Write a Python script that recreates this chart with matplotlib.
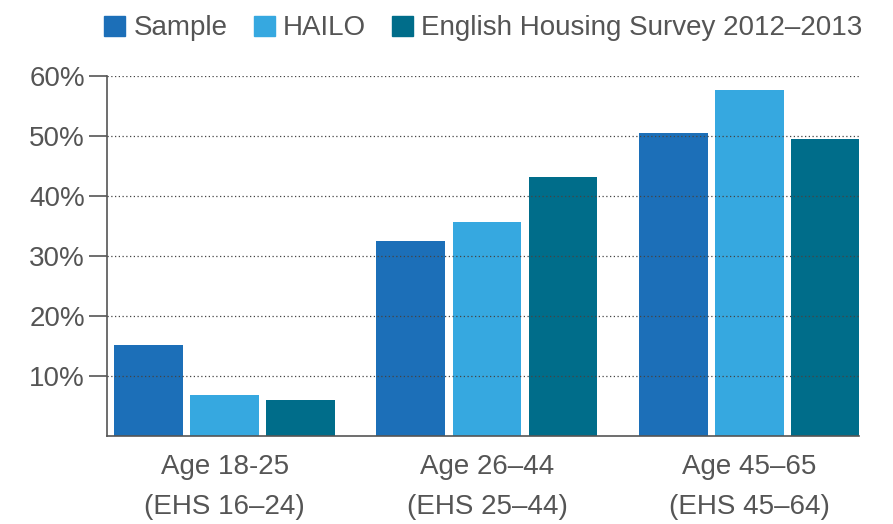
import matplotlib
matplotlib.use('Agg')
import matplotlib.pyplot as plt
from matplotlib.patches import Patch
import numpy as np

plt.rcParams['font.family'] = ['Liberation Sans', 'DejaVu Sans']

groups = ['Age 18-25\n(EHS 16\u201324)', 'Age 26\u201344\n(EHS 25\u201344)', 'Age 45\u201365\n(EHS 45\u201364)']
series = ['Sample', 'HAILO', 'English Housing Survey 2012\u20132013']
sample = [15.2, 32.5, 50.5]
hailo = [6.8, 35.7, 57.7]
ehs = [6.0, 43.2, 49.5]
colors = ['#1c6fb8', '#36a8e0', '#006d8a']
yticks = [10, 20, 30, 40, 50, 60]

text_col = '#555555'

fig = plt.figure(figsize=(8.93, 5.24), dpi=100)
ax = fig.add_axes([107 / 893, 1 - 436 / 524, (859 - 107) / 893, (436 - 76) / 524])

x = np.arange(len(groups))
width = 0.263
step = 0.29
for i, (vals, c) in enumerate(zip([sample, hailo, ehs], colors)):
    ax.bar(x + (i - 1) * step, vals, width, color=c, zorder=2)

ax.set_xlim(-0.4495, 2.419)
ax.set_ylim(0, 60)

ax.set_yticks(yticks)
ax.set_yticklabels([f'{v}%' for v in yticks], fontsize=20, color=text_col)
ax.yaxis.grid(True, linestyle=(0, (1, 2)), color='#444444', linewidth=0.9, zorder=3)
ax.set_axisbelow(False)
ax.tick_params(axis='y', length=13, width=1.2, color=text_col, pad=3)

ax.set_xticks(x)
ax.set_xticklabels(groups, fontsize=20, color=text_col, linespacing=1.72)
ax.tick_params(axis='x', length=0, pad=13)

for s in ['top', 'right']:
    ax.spines[s].set_visible(False)
for s in ['left', 'bottom']:
    ax.spines[s].set_color(text_col)
    ax.spines[s].set_linewidth(1.2)

handles = [Patch(color=c) for c in colors]
fig.legend(handles, series, loc='upper left', bbox_to_anchor=(85 / 893, 1 + 4 / 524),
           ncol=3, frameon=False, fontsize=20, handlelength=0.75, handleheight=0.75,
           handletextpad=0.29, columnspacing=0.95, labelcolor=text_col,
           borderpad=0.2)

fig.savefig('out.png', dpi=100, facecolor='white')
